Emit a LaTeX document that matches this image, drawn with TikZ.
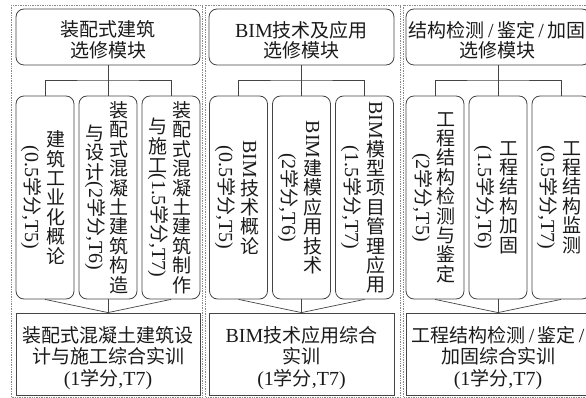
\documentclass[tikz,border=0pt]{standalone}
\usepackage{fontspec}
\usepackage{graphicx}
\setmainfont{Liberation Serif}[Scale=1.05]
\newfontfamily\cjk{Noto Sans CJK SC}
\newcommand{\lat}[1]{{\rmfamily #1}}
\newcommand{\rot}[1]{\rotatebox[origin=c]{-90}{#1}}
\definecolor{linec}{HTML}{444444}
\definecolor{txtc}{HTML}{1A1A1A}
\definecolor{framec}{HTML}{8A8A8A}
\tikzset{
  hdrbox/.style={draw=linec, line width=0.8pt, rounded corners=8pt, minimum width=184pt, minimum height=56pt, inner sep=0pt},
  hdrtext/.style={inner sep=0pt, align=center, text=txtc, font=\cjk\fontsize{19}{20.5}\selectfont},
  subbox/.style={draw=linec, line width=0.8pt, rounded corners=8pt, minimum width=58pt, minimum height=203pt, inner sep=0pt},
  botbox/.style={draw=linec, line width=0.8pt, minimum width=184pt, minimum height=82pt, inner sep=0pt},
  bottext/.style={inner sep=0pt, align=center, text=txtc, font=\cjk\fontsize{19}{21.5}\selectfont},
  vcol/.style={align=center, inner sep=0pt, text=txtc, font=\cjk\fontsize{19}{19.4}\selectfont},
  wire/.style={draw=linec, line width=0.7pt},
  framebox/.style={draw=framec, densely dotted, line width=0.7pt}
}
\begin{document}
\begin{tikzpicture}[x=1pt,y=-1pt]
\useasboundingbox (0,0) rectangle (586,398);
\clip (0,0) rectangle (586,398);
% frames
\draw[framebox] (11,5) rectangle (202.5,397);
\draw[framebox] (205.5,5) rectangle (400.5,397);
\draw[framebox] (403.5,5) rectangle (600,397);

% ===== column 1 =====
\node[hdrbox] (h1) at (108,37) {};
\node[hdrtext] (h1t) at (108,40) {装配式建筑\\选修模块};
\node[subbox] (s11) at (45,197.5) {};
\node[subbox] (s12) at (108,197.5) {};
\node[subbox] (s13) at (171,197.5) {};
\node[botbox] (b1) at (108,354) {};
\node[bottext] (b1t) at (108,358) {装配式混凝土建筑设\\计与施工综合实训\\\lat{(1}学分\lat{,T7)}};
\node[vcol] (t11r) at (56,197.5) {建\\筑\\工\\业\\化\\概\\论};
\node[vcol] (t11l) at (31,197.5) {\rot{\lat{(0.5}学分\lat{,T5)}}};
\node[vcol] (t12r) at (119,197.5) {装\\配\\式\\混\\凝\\土\\建\\筑\\构\\造};
\node[vcol] (t12l) at (95,197.5) {与\\设\\计\\\rot{\lat{(2}学分\lat{,T6)}}};
\node[vcol] (t13r) at (182,197.5) {装\\配\\式\\混\\凝\\土\\建\\筑\\制\\作};
\node[vcol] (t13l) at (158,197.5) {与\\施\\工\\\rot{\lat{(1.5}学分\lat{,T7)}}};
\coordinate (j1) at (108,80);
\draw[wire] (h1) -- (s12);
\draw[wire] (s11.north) |- (j1) -| (s13.north);
\draw[wire] (s11.south) -- (b1.north);
\draw[wire] (s12) -- (b1);
\draw[wire] (s13.south) -- (b1.north);

% ===== column 2 =====
\node[hdrbox, minimum width=185pt] (h2) at (301.5,37) {};
\node[hdrtext] (h2t) at (301.5,40) {\lat{BIM}技术及应用\\选修模块};
\node[subbox] (s21) at (238.5,197.5) {};
\node[subbox] (s22) at (301.5,197.5) {};
\node[subbox] (s23) at (364.5,197.5) {};
\node[botbox, minimum width=185pt] (b2) at (301.5,354) {};
\node[bottext] (b2t) at (301.5,358) {\lat{BIM}技术应用综合\\实训\\\lat{(1}学分\lat{,T7)}};
\node[vcol] (t21r) at (249.5,197.5) {\rot{\lat{BIM}}\\技\\术\\概\\论};
\node[vcol] (t21l) at (225,197.5) {\rot{\lat{(0.5}学分\lat{,T5)}}};
\node[vcol] (t22r) at (312.5,197.5) {\rot{\lat{BIM}}\\建\\模\\应\\用\\技\\术};
\node[vcol] (t22l) at (288,197.5) {\rot{\lat{(2}学分\lat{,T6)}}};
\node[vcol] (t23r) at (375.5,197.5) {\rot{\lat{BIM}}\\模\\型\\项\\目\\管\\理\\应\\用};
\node[vcol] (t23l) at (351,197.5) {\rot{\lat{(1.5}学分\lat{,T7)}}};
\coordinate (j2) at (301.5,80);
\draw[wire] (h2) -- (s22);
\draw[wire] (s21.north) |- (j2) -| (s23.north);
\draw[wire] (s21.south) -- (b2.north);
\draw[wire] (s22) -- (b2);
\draw[wire] (s23.south) -- (b2.north);

% ===== column 3 =====
\node[hdrbox] (h3) at (498,37) {};
\node[hdrtext] (h3t) at (497,40) {结构检测\lat{\,/\,}鉴定\lat{\,/\,}加固\\选修模块};
\node[subbox] (s31) at (435,197.5) {};
\node[subbox] (s32) at (498,197.5) {};
\node[subbox] (s33) at (561,197.5) {};
\node[botbox] (b3) at (498,354) {};
\node[bottext] (b3t) at (498,358) {工程结构检测\lat{\,/\,}鉴定\lat{\,/}\\加固综合实训\\\lat{(1}学分\lat{,T7)}};
\node[vcol] (t31r) at (446,197.5) {工\\程\\结\\构\\检\\测\\与\\鉴\\定};
\node[vcol] (t31l) at (422,197.5) {\rot{\lat{(2}学分\lat{,T5)}}};
\node[vcol] (t32r) at (509,197.5) {工\\程\\结\\构\\加\\固};
\node[vcol] (t32l) at (484,197.5) {\rot{\lat{(1.5}学分\lat{,T6)}}};
\node[vcol] (t33r) at (572,197.5) {工\\程\\结\\构\\监\\测};
\node[vcol] (t33l) at (547,197.5) {\rot{\lat{(0.5}学分\lat{,T7)}}};
\coordinate (j3) at (498,80);
\draw[wire] (h3) -- (s32);
\draw[wire] (s31.north) |- (j3) -| (s33.north);
\draw[wire] (s31.south) -- (b3.north);
\draw[wire] (s32) -- (b3);
\draw[wire] (s33.south) -- (b3.north);
\end{tikzpicture}
\end{document}
